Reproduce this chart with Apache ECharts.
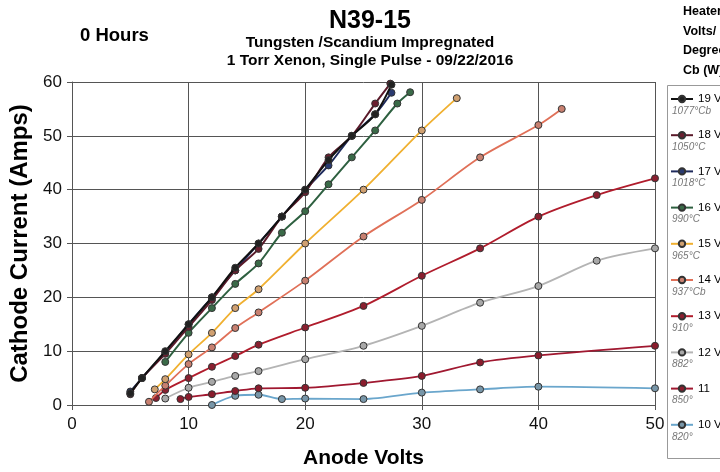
<!DOCTYPE html>
<html>
<head>
<meta charset="utf-8">
<script src="https://cdn.jsdelivr.net/npm/echarts@6/dist/echarts.min.js"></script>
<style>
  html, body { margin: 0; padding: 0; background: #fff; }
  #main { width: 720px; height: 472px; }
</style>
</head>
<body>
<div id="main"></div>
<script>
// 数据：每条曲线 [阳极电压, 阴极电流]
var v19 = [[5,2.2],[6,5],[8,10],[10,15],[12,20],[14,25.5],[16,30],[18,35],[20,40],[22,45.5],[24,50],[26,54],[27.4,59.5]];
var v18 = [[5,2],[6,5],[8,9.5],[10,14.5],[12,19.5],[14,25],[16,29],[18,35],[20,39.5],[22,46],[24,50],[26,56],[27.3,59.7]];
var v17 = [[5,2.5],[6,5],[8,9.8],[10,15],[12,20],[14,25],[16,30],[18,35],[20,40],[22,44.5],[24,50],[26,54],[27.4,58]];
var v16 = [[8,8],[10,13.4],[12,18],[14,22.5],[16,26.3],[18,32],[20,36],[22,41],[24,46],[26,51],[27.9,56],[29,58.1]];
var v15 = [[7.1,2.9],[8,4.8],[10,9.4],[12,13.4],[14,18],[16,21.5],[20,30],[25,40],[30,51],[33,57]];
var v14 = [[6.6,0.6],[8,3.6],[10,7.6],[12,10.7],[14,14.3],[16,17.2],[20,23.1],[25,31.3],[30,38.1],[35,46],[40,52],[42,55]];
var v13 = [[7.2,1.3],[8,2.8],[10,5],[12,7.1],[14,9.1],[16,11.2],[20,14.4],[25,18.4],[30,24],[35,29.1],[40,35],[45,39],[50,42.1]];
var v12 = [[8,1.2],[10,3.2],[12,4.3],[14,5.4],[16,6.3],[20,8.5],[25,11],[30,14.7],[35,19],[40,22.1],[45,26.8],[50,29.1]];
var v11 = [[9.3,1.1],[10,1.5],[12,2],[14,2.6],[16,3.1],[20,3.2],[25,4.1],[30,5.4],[35,7.9],[40,9.2],[50,11]];
var v10 = [[12,0],[14,1.7],[16,1.9],[18,1.1],[20,1.2],[25,1.1],[30,2.3],[35,2.9],[40,3.4],[50,3.1]];

var names = ['19 V', '18 V', '17 V', '16 V', '15 V', '14 V', '13 V', '12 V', '11', '10 V'];
var temps = ['1077°Cb', '1050°C', '1018°C', '990°C', '965°C', '937°Cb', '910°', '882°', '850°', '820°'];
var datas = [v19, v18, v17, v16, v15, v14, v13, v12, v11, v10];
var lineColors = ['#111111', '#5a1a2a', '#1e2a5c', '#2e6040', '#f0b030', '#e07058', '#b01c2c', '#b4b4b4', '#a01830', '#6aa6cc'];
var dotColors  = ['#222222', '#6a2030', '#2a3a70', '#3a6a48', '#d0a070', '#c88070', '#8a2030', '#a8a8a8', '#8a1c2c', '#7896a8'];

var myChart = echarts.init(document.getElementById('main'));

var series = [];
for (var i = 0; i < datas.length; i++) {
    series.push({
        name: names[i],
        type: 'line',
        data: datas[i],
        smooth: 0.3,
        symbol: 'circle',
        symbolSize: 7,
        lineStyle: { color: lineColors[i], width: i < 4 ? 2 : 1.8 },
        itemStyle: { color: dotColors[i], borderColor: '#333', borderWidth: 1 },
        z: 10 - i
    });
}

var option = {
    animation: false,
    textStyle: { fontFamily: 'Liberation Sans, Arial, sans-serif' },
    graphic: [
        { type: 'text', left: 80, top: 26, style: { text: '0 Hours', font: 'bold 18.5px Liberation Sans', fill: '#000' } },
        { type: 'text', left: 683, top: 2, style: { text: 'Heater\nVolts/\nDegrees\nCb (W)', font: 'bold 12.5px Liberation Sans', lineHeight: 19.5, fill: '#000' } },
        { type: 'rect', shape: { x: 667.5, y: 85.5, width: 70, height: 373 }, style: { fill: 'none', stroke: '#999', lineWidth: 1 } }
    ],
    title: {
        text: 'N39-15',
        subtext: 'Tungsten /Scandium Impregnated\n1 Torr Xenon, Single Pulse - 09/22/2016',
        left: 365,
        textAlign: 'center',
        top: 4,
        itemGap: 0,
        textStyle: { fontSize: 25, fontWeight: 'bold', color: '#000' },
        subtextStyle: { fontSize: 15.5, fontWeight: 'bold', color: '#000', lineHeight: 18 }
    },
    legend: {
        orient: 'vertical',
        left: 670,
        top: 82,
        padding: 0,
        itemGap: 2.2,
        itemWidth: 22,
        itemHeight: 8,
        data: names,
        formatter: function (name) {
            var k = names.indexOf(name);
            return '{s| }\n{a|' + name + '}\n{b|' + temps[k] + '}';
        },
        textStyle: {
            rich: {
                s: { fontSize: 10, lineHeight: 12 },
                a: { fontSize: 11.5, color: '#000', lineHeight: 12 },
                b: { fontSize: 10, color: '#777', fontStyle: 'italic', lineHeight: 12, padding: [0, 0, 0, -26] }
            }
        }
    },
    grid: { left: 72, right: 65, top: 82, bottom: 67, outerBoundsMode: 'none' },
    xAxis: {
        type: 'value',
        min: 0, max: 50, interval: 10,
        name: 'Anode Volts',
        nameLocation: 'middle',
        nameGap: 43,
        nameTextStyle: { fontSize: 21, fontWeight: 'bold', color: '#000' },
        axisLine: { show: true, lineStyle: { color: '#555' } },
        axisTick: { show: true, length: 5, lineStyle: { color: '#555' } },
        axisLabel: { fontSize: 17, color: '#111', margin: 11 },
        splitLine: { show: true, lineStyle: { color: '#555', width: 1 } }
    },
    yAxis: {
        type: 'value',
        min: 0, max: 60, interval: 10,
        name: 'Cathode Current (Amps)',
        nameLocation: 'middle',
        nameGap: 38,
        nameTextStyle: { fontSize: 24, fontWeight: 'bold', color: '#000' },
        axisLine: { show: true, lineStyle: { color: '#555' } },
        axisTick: { show: true, length: 5, lineStyle: { color: '#555' } },
        axisLabel: { fontSize: 17, color: '#111', margin: 10 },
        splitLine: { show: true, lineStyle: { color: '#555', width: 1 } }
    },
    series: series
};

myChart.setOption(option);
</script>
</body>
</html>
